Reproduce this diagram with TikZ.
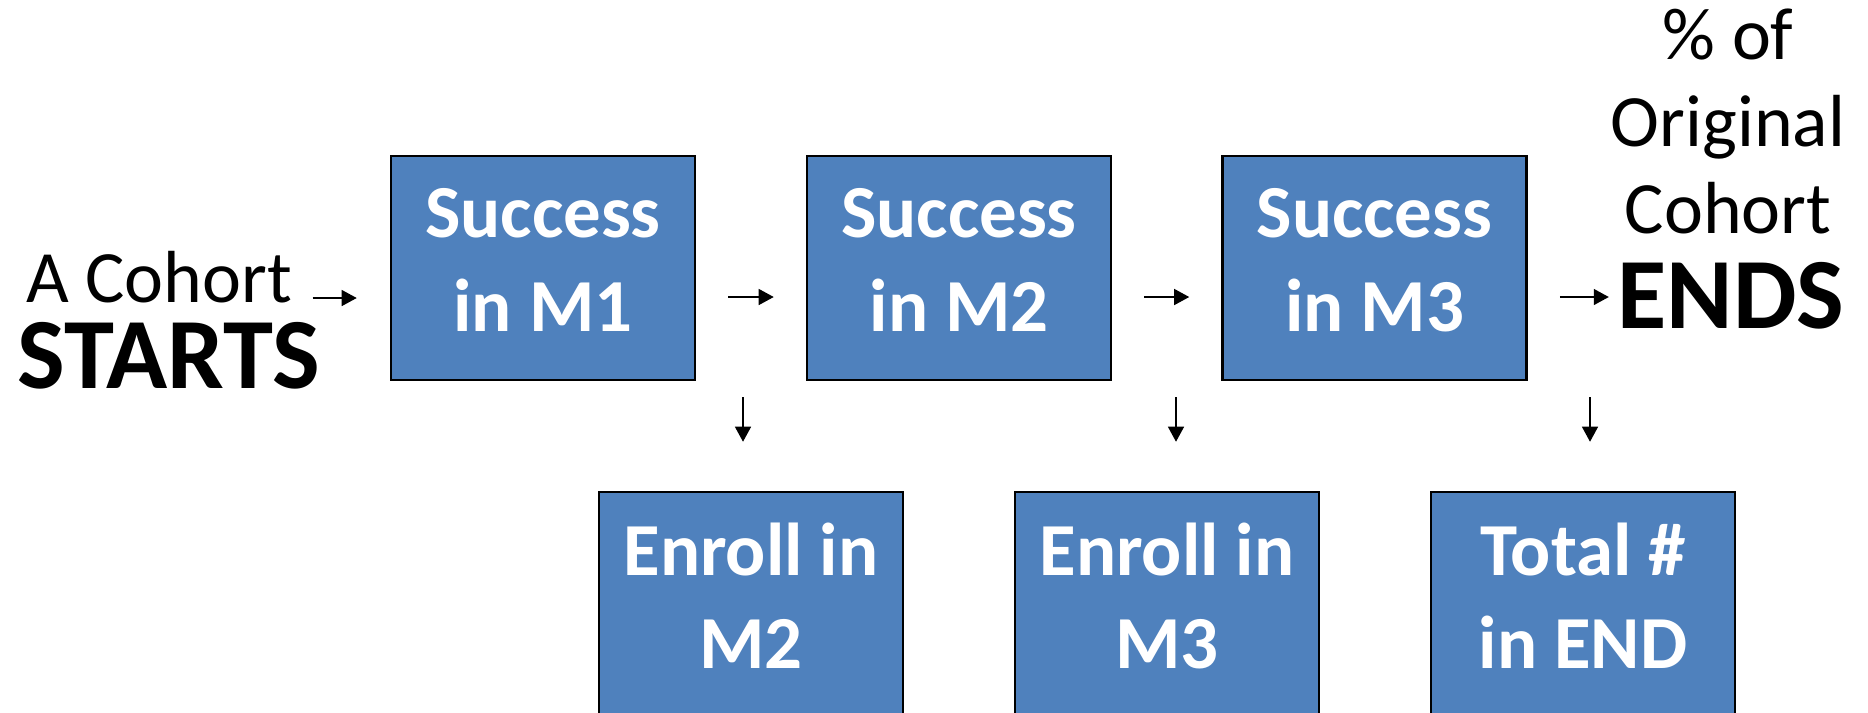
\documentclass[tikz,border=0pt]{standalone}
\usepackage{fontspec}
\setmainfont{Carlito}
\usepackage{tikz}
\usetikzlibrary{arrows.meta}
\definecolor{boxblue}{RGB}{79,129,189}

\begin{document}
\begin{tikzpicture}[
  box/.style={draw=black,line width=0.7pt,fill=boxblue,text=white,
    font=\fontsize{21.3}{26.5}\selectfont\bfseries,align=center,
    minimum width=3.04cm,minimum height=2.24cm,inner sep=0pt,text depth=0.16cm},
  lbl/.style={font=\fontsize{21}{24.7}\selectfont,inner sep=0pt,anchor=base},
  big/.style={font=\fontsize{28.7}{34}\selectfont\bfseries,inner sep=0pt,anchor=base,text height=0.62cm},
  arr/.style={->,>={Triangle[length=4.3pt,width=4.5pt]},line width=0.6pt}]
\clip (0,0) rectangle (18.68,-7.12);

\node[box] (m1) at (5.43,-2.68) {Success\\in M1};

\node[box] (m2) at (9.59,-2.68) {Success\\in M2};

\node[box] (m3) at (13.745,-2.68) {Success\\in M3};

\node[box] (e2) at (7.51,-6.04) {Enroll in\\M2};

\node[box] (e3) at (11.67,-6.04) {Enroll in\\M3};

\node[box] (tot) at (15.83,-6.04) {Total \#\\in END};

\node[lbl,text depth=0pt] (cohort) at (1.59,-3.02) {A Cohort};
\node[big] (starts) at (1.69,-3.88) {STARTS};

\node[lbl,align=center] (pct) at (17.28,-2.33) {\% of\\Original\\Cohort};
\node[big] (ends) at (17.31,-3.28) {ENDS};

\draw[arr,shorten >=0.33cm] ([xshift=0.2cm,yshift=0.04cm]cohort.base east) -- ([yshift=0.04cm]cohort.base east -| m1.west);

\draw[arr,shorten <=0.32cm,shorten >=0.32cm] ([yshift=-0.29cm]m1.east) -- ([yshift=-0.29cm]m2.west);

\draw[arr,shorten <=0.32cm,shorten >=0.32cm] ([yshift=-0.29cm]m2.east) -- ([yshift=-0.29cm]m3.west);

\draw[arr,shorten <=0.32cm,shorten >=0.08cm] ([yshift=-0.29cm]m3.east) -- ([yshift=-0.29cm]m3.east -| ends.west);

\draw[arr,shorten <=0.16cm,shorten >=0.49cm] ([xshift=-0.08cm]e2.north |- m1.south) -- ([xshift=-0.08cm]e2.north);

\draw[arr,shorten <=0.16cm,shorten >=0.49cm] ([xshift=0.09cm]e3.north |- m2.south) -- ([xshift=0.09cm]e3.north);

\draw[arr,shorten <=0.16cm,shorten >=0.49cm] ([xshift=0.07cm]tot.north |- m3.south) -- ([xshift=0.07cm]tot.north);
\end{tikzpicture}
\end{document}
